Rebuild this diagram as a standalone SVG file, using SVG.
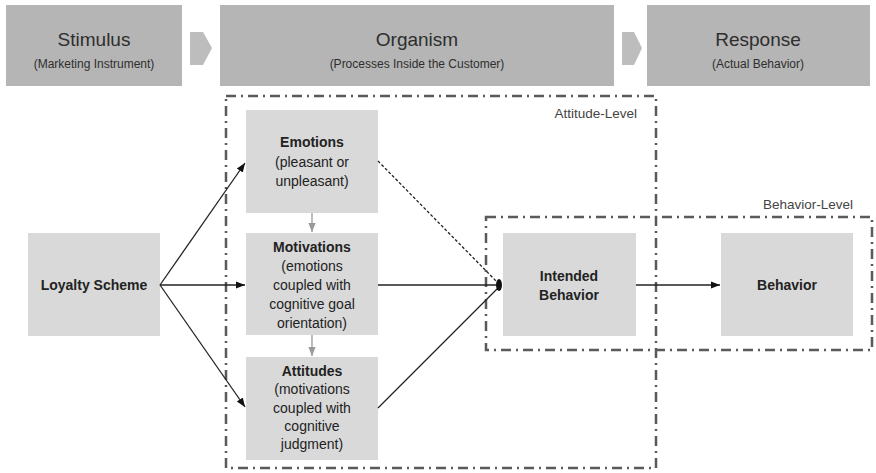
<svg xmlns="http://www.w3.org/2000/svg" width="876" height="473" viewBox="0 0 876 473">
<defs>
<style>
.top{fill:#b5b5b5}
.box{fill:#d9d9d9}
.t1{font-family:"Liberation Sans",Arial,sans-serif;font-size:19px;fill:#2e2e2e;text-anchor:middle}
.t2{font-family:"Liberation Sans",Arial,sans-serif;font-size:12px;fill:#2e2e2e;text-anchor:middle}
.b{font-family:"Liberation Sans",Arial,sans-serif;font-size:14px;fill:#222;text-anchor:middle;font-weight:bold}
.n{font-family:"Liberation Sans",Arial,sans-serif;font-size:14px;fill:#222;text-anchor:middle}
.lvl{font-family:"Liberation Sans",Arial,sans-serif;font-size:13.5px;fill:#444;text-anchor:end}
.frame{fill:none;stroke:#5a5a5a;stroke-width:2.5;stroke-dasharray:10 5 2 5}
.con{stroke:#222;stroke-width:1.3;fill:none}
.gray{stroke:#999;stroke-width:1.3;fill:none}
</style>
<marker id="ah" viewBox="0 0 10 10" refX="10" refY="5" markerWidth="7" markerHeight="7" orient="auto"><path d="M0,1 L10,5 L0,9 z" fill="#111"/></marker>
<marker id="ag" viewBox="0 0 10 10" refX="10" refY="5" markerWidth="7" markerHeight="7" orient="auto"><path d="M0,1 L10,5 L0,9 z" fill="#999"/></marker>
</defs>

<g id="stimulus"><rect class="top" x="6" y="5" width="176" height="81"/><text class="t1" x="94" y="46">Stimulus</text><text class="t2" x="94" y="68">(Marketing Instrument)</text></g>
<g id="arrow1"><polygon points="190,32 203,32 212,48 203,65 190,65" fill="#bdbdbd"/></g>
<g id="organism"><rect class="top" x="220" y="5" width="394" height="81"/><text class="t1" x="417" y="46">Organism</text><text class="t2" x="417" y="68">(Processes Inside the Customer)</text></g>
<g id="arrow2"><polygon points="622,32 634,32 642,48 634,65 622,65" fill="#bdbdbd"/></g>
<g id="response"><rect class="top" x="647" y="5" width="223" height="81"/><text class="t1" x="758" y="46">Response</text><text class="t2" x="758" y="68">(Actual Behavior)</text></g>

<g id="attitude-level"><rect class="frame" x="226" y="96" width="430" height="372"/><text class="lvl" x="637" y="118">Attitude-Level</text></g>
<g id="behavior-level"><rect class="frame" x="486" y="217" width="386" height="133"/><text class="lvl" x="853" y="209">Behavior-Level</text></g>

<g id="loyalty"><rect class="box" x="28" y="233" width="132" height="103"/><text class="b" x="94" y="290">Loyalty Scheme</text></g>
<g id="emotions"><rect class="box" x="246" y="110" width="132" height="103"/><text class="b" x="312" y="147">Emotions</text><text class="n" x="312" y="167">(pleasant or</text><text class="n" x="312" y="186">unpleasant)</text></g>
<g id="motivations"><rect class="box" x="246" y="233" width="132" height="102"/><text class="b" x="312" y="252">Motivations</text><text class="n" x="312" y="271">(emotions</text><text class="n" x="312" y="290">coupled with</text><text class="n" x="312" y="309">cognitive goal</text><text class="n" x="312" y="328">orientation)</text></g>
<g id="attitudes"><rect class="box" x="246" y="357" width="132" height="103"/><text class="b" x="312" y="376">Attitudes</text><text class="n" x="312" y="394">(motivations</text><text class="n" x="312" y="413">coupled with</text><text class="n" x="312" y="431">cognitive</text><text class="n" x="312" y="449">judgment)</text></g>
<g id="intended"><rect class="box" x="503" y="233" width="133" height="103"/><text class="b" x="569" y="281">Intended</text><text class="b" x="569" y="300">Behavior</text></g>
<g id="behavior"><rect class="box" x="721" y="233" width="132" height="103"/><text class="b" x="787" y="290">Behavior</text></g>

<g id="connectors">
<line class="con" x1="160" y1="285" x2="245" y2="163" marker-end="url(#ah)"/>
<line class="con" x1="160" y1="285" x2="245" y2="285" marker-end="url(#ah)"/>
<line class="con" x1="160" y1="285" x2="245" y2="407" marker-end="url(#ah)"/>
<line class="gray" x1="312" y1="213" x2="312" y2="232" marker-end="url(#ag)"/>
<line class="gray" x1="312" y1="335" x2="312" y2="356" marker-end="url(#ag)"/>
<line class="con" x1="378" y1="285" x2="498" y2="285"/>
<line class="con" x1="378" y1="161" x2="498" y2="283" stroke-dasharray="3 2"/>
<line class="con" x1="378" y1="408" x2="499" y2="287"/>
<ellipse cx="499" cy="285" rx="3" ry="6" fill="#111"/>
<line class="con" x1="636" y1="285" x2="720" y2="285" marker-end="url(#ah)"/>
</g>
</svg>
